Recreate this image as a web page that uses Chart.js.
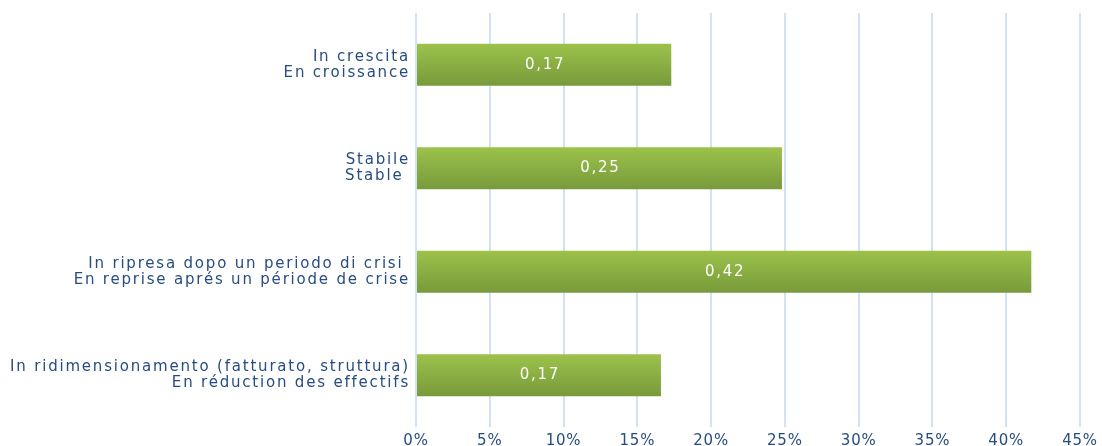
<!DOCTYPE html>
<html><head><meta charset="utf-8">
<script src="https://cdn.jsdelivr.net/npm/chart.js@4/dist/chart.umd.min.js"></script>
<style>html,body{margin:0;padding:0;background:#fff}#wrap{width:1102px;height:446px}</style>
</head><body><div id="wrap"><canvas id="c" width="1102" height="446"></canvas></div>
<script>
const categories = [
  ["In crescita", "En croissance"],
  ["Stabile", "Stable "],
  ["In ripresa dopo un periodo di crisi ", "En reprise aprés un période de crise"],
  ["In ridimensionamento (fatturato, struttura)", "En réduction des effectifs"]
];
const values = [0.173, 0.248, 0.417, 0.166];
const xTicks = [0, 0.05, 0.10, 0.15, 0.20, 0.25, 0.30, 0.35, 0.40, 0.45];

const FONT = "'DejaVu Sans', sans-serif";
const BLUE = '#284c80';

function withSpacing(axis, spacing) {
  if (axis._spaced) return;
  axis._spaced = true;
  const orig = axis.drawLabels;
  axis.drawLabels = function (area) {
    const ctx = this.ctx;
    ctx.save();
    ctx.letterSpacing = spacing;
    orig.call(this, area);
    ctx.restore();
  };
}

const gradPlugin = {
  id: 'grad',
  beforeDatasetsDraw(chart) {
    const ctx = chart.ctx;
    chart.getDatasetMeta(0).data.forEach(el => {
      const top = el.y - el.height / 2, bot = el.y + el.height / 2;
      const g = ctx.createLinearGradient(0, top, 0, bot);
      g.addColorStop(0, '#9cc24b');
      g.addColorStop(1, '#789a3b');
      el.options.backgroundColor = g;
    });
  }
};
const labelPlugin = {
  id: 'vlabels',
  afterDatasetsDraw(chart) {
    const ctx = chart.ctx;
    const meta = chart.getDatasetMeta(0);
    ctx.save();
    ctx.fillStyle = '#ffffff';
    ctx.font = '15px ' + FONT;
    ctx.letterSpacing = '1.7px';
    ctx.textAlign = 'center';
    ctx.textBaseline = 'middle';
    meta.data.forEach((el, i) => {
      const v = chart.data.datasets[0].data[i];
      ctx.fillText(v.toFixed(2).replace('.', ','), (el.base + el.x) / 2 + 1, el.y);
    });
    ctx.restore();
  }
};

new Chart(document.getElementById('c'), {
  type: 'bar',
  data: {
    labels: categories,
    datasets: [{ data: values, backgroundColor: values.map(() => '#8aae44'), borderWidth: 0,
      barPercentage: 0.405, categoryPercentage: 1 }]
  },
  options: {
    indexAxis: 'y',
    responsive: false,
    animation: false,
    layout: { padding: { top: 13, right: 22, bottom: 0, left: 0 } },
    plugins: { legend: { display: false }, tooltip: { enabled: false } },
    scales: {
      x: {
        min: 0, max: 0.45,
        afterBuildTicks(axis) { axis.ticks = xTicks.map(v => ({ value: v })); },
        afterFit(axis) { axis.height = 19; axis.paddingLeft = 0; axis.paddingRight = 0; withSpacing(axis, '0.8px'); },
        grid: { color: '#d3e1f4', lineWidth: 2, drawTicks: false },
        border: { display: false },
        ticks: { color: BLUE, font: { size: 15, family: FONT }, padding: 5, maxRotation: 0,
          callback: v => Math.round(v * 100) + '%' }
      },
      y: {
        grid: { display: false, drawTicks: false },
        border: { display: false },
        afterFit(axis) { axis.width = 416; axis.paddingTop = 0; axis.paddingBottom = 0; withSpacing(axis, '1.8px'); },
        ticks: { color: BLUE, font: { size: 15, family: FONT, lineHeight: 1.07 }, padding: 6 }
      }
    }
  },
  plugins: [gradPlugin, labelPlugin]
});
</script></body></html>
